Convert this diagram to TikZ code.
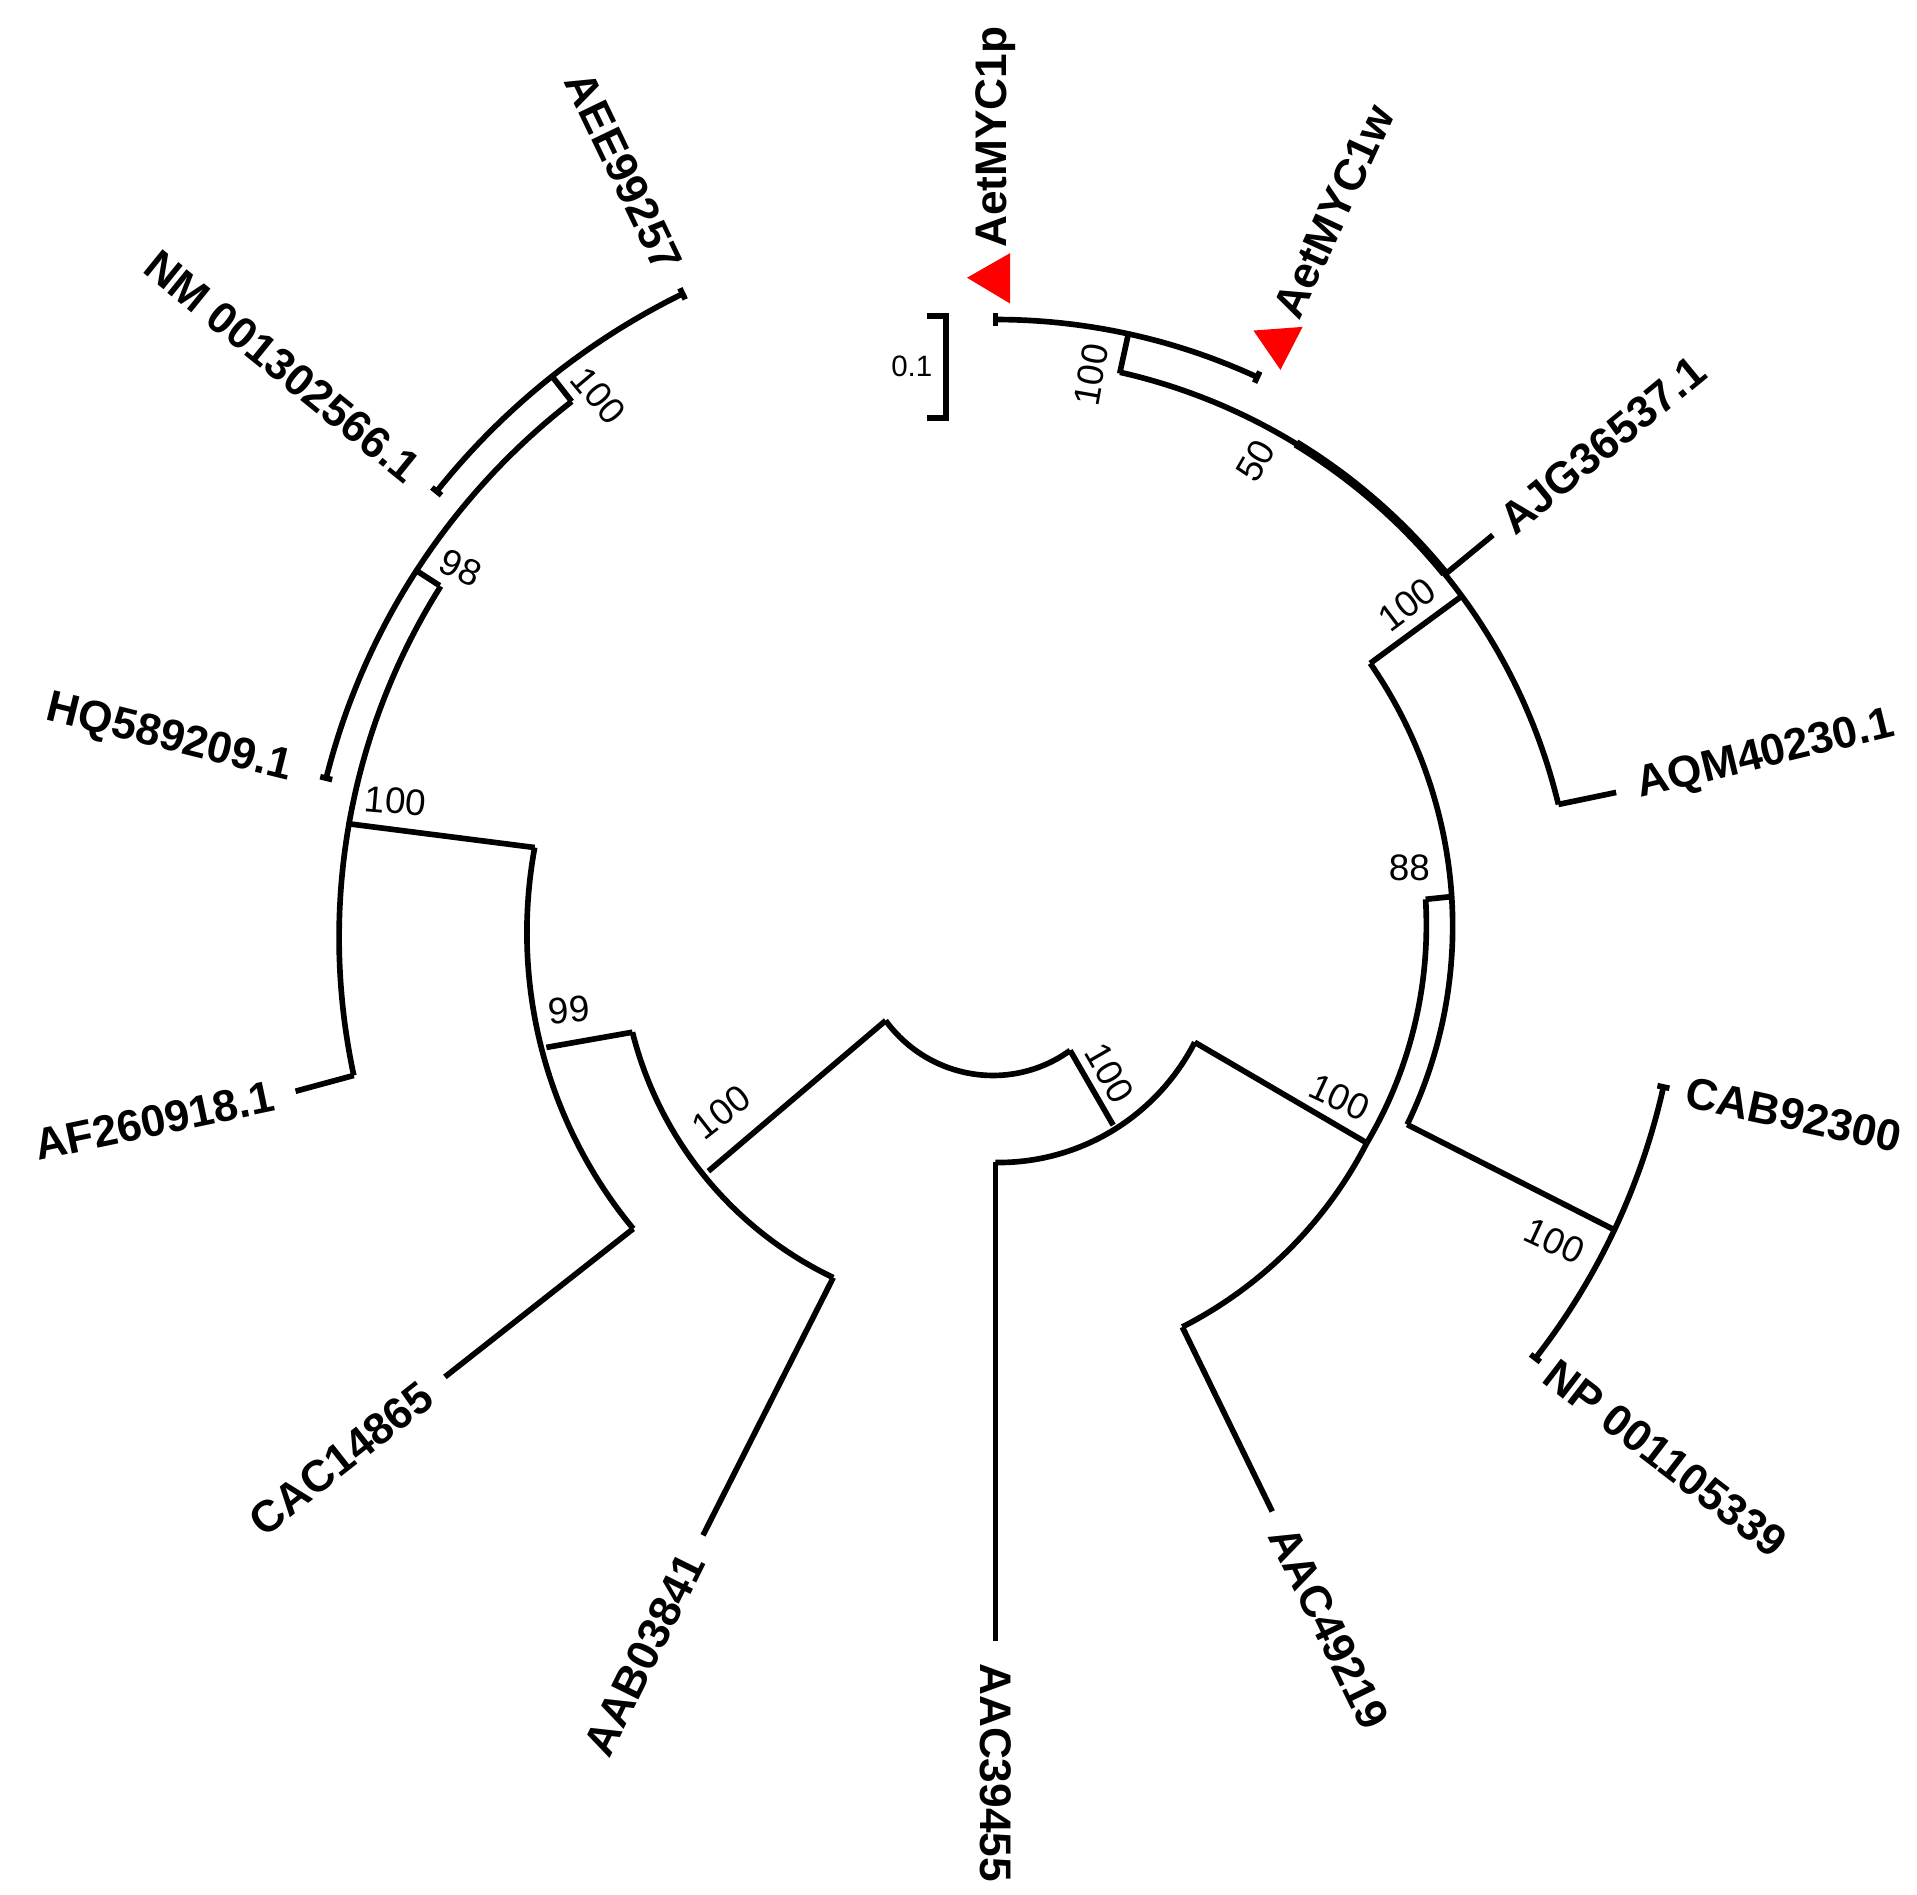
\documentclass[tikz,border=0pt]{standalone}
\usepackage{fontspec}
\setmainfont{Liberation Sans}
\newcommand\pt[2]{({810+(#2)*cos(#1)},{768-(#2)*sin(#1)})}
\newcommand\arcp[4]{plot[domain=#1:#2,samples=80]({810+(#3+(#4-#3)*(\x-(#1))/((#2)-(#1)))*cos(\x)},{768-(#3+(#4-#3)*(\x-(#1))/((#2)-(#1)))*sin(\x)})}
\newcommand\tickat[2]{\draw[br] \pt{#1}{#2-5} -- \pt{#1}{#2+5};}
\begin{document}
\begin{tikzpicture}[x=0.5pt,y=-0.5pt,
  br/.style={line width=2.3pt,line join=miter,line cap=butt},
  lab/.style={font=\bfseries\fontsize{18}{18}\selectfont,inner sep=0pt},
  boot/.style={font=\fontsize{15}{15}\selectfont,inner sep=0pt}]
\useasboundingbox (0,0) rectangle (1560,1542);
% ---------- top clade ----------
\draw[br] \arcp{90}{65.2}{508}{508};
\tickat{90}{508}\tickat{65.2}{508}
\draw[br] \pt{77.7}{508} -- \pt{77.7}{475};
\draw[br] \arcp{77.7}{13.9}{476}{472};
\draw[line width=3.6pt] \arcp{59}{39.5}{475}{474};
\draw[br] \pt{39.4}{475} -- \pt{39.4}{524};
\draw[br] \pt{13.9}{472} -- \pt{13.7}{520};
\draw[br] \pt{36.7}{475} -- \pt{36.8}{381};
% ---------- right clade ----------
\draw[br] \arcp{36.8}{-23.7}{381}{366};
\draw[br] \pt{-23.7}{366} -- \pt{-24.8}{554};
\draw[br] \arcp{-12.1}{-37.5}{556}{554};
\tickat{-12.1}{556}\tickat{-37.5}{554}
\draw[br] \pt{5.9}{373} -- \pt{5.9}{352};
\draw[br] \arcp{5.9}{-28.2}{352}{343};
\draw[br] \arcp{-28.2}{-64}{343}{347};
\draw[br] \pt{-64}{347} -- \pt{-64}{514};
\draw[br] \pt{-28.2}{343} -- \pt{-26.3}{181};
\draw[br] \arcp{-26.3}{-90}{181}{178};
\draw[br] \pt{-90}{178} -- \pt{-90}{567};
\draw[br] \pt{-57}{176} -- \pt{-55}{106};
% ---------- root ----------
\draw[br] \arcp{-55}{-145}{106}{109};
\draw[br] \pt{-145}{109} -- \pt{-141.6}{298};
% ---------- left clade ----------
\draw[br] \arcp{-115.9}{-166.3}{302}{304};
\draw[br] \pt{-115.9}{302} -- \pt{-116.3}{537};
\draw[br] \pt{-166.3}{304} -- \pt{-167}{375};
\draw[br] \arcp{168.2}{218.2}{383}{375};
\draw[br] \pt{218.2}{375} -- \pt{218.2}{570};
\draw[br] \pt{168.2}{383} -- \pt{169.5}{537};
\draw[br] \arcp{147.2}{191.6}{537}{533};
\draw[br] \pt{191.6}{533} -- \pt{191.9}{582};
\draw[br] \pt{147.2}{538} -- \pt{147.2}{560};
\draw[br] \arcp{128}{166.1}{560}{561};
\tickat{166.1}{561}
\draw[br] \pt{128}{560} -- \pt{128}{586};
\draw[br] \arcp{115.7}{141}{587}{585};
\tickat{115.7}{587}\tickat{141}{585}
% ---------- markers ----------
\fill[red] (787,226) -- (822,206) -- (822,247) -- cycle;
\fill[red] (1020,269) -- (1060,266) -- (1042,301) -- cycle;
% ---------- scale bar ----------
\draw[br] (754,257) -- (770,257) -- (770,340) -- (754,340);
\node[font=\fontsize{12}{12}\selectfont] (sc) at (742,298) {0.1};
% ---------- leaf labels ----------
\node[lab,anchor=west,rotate=90] (l1) at \pt{90}{566} {AetMYC1p};
\node[lab,anchor=west,rotate=65.2] (l2) at \pt{65.2}{563} {AetMYC1w};
\node[lab,anchor=west,rotate=39.4] (l3) at \pt{39.4}{537} {AJG36537.1};
\node[lab,anchor=west,rotate=13.7] (l4) at \pt{13.7}{538} {AQM40230.1};
\node[lab,anchor=west,rotate=-12.1] (l5) at \pt{-12.1}{575} {CAB92300};
\node[lab,anchor=west,rotate=-37.5] (l6) at \pt{-37.5}{568} {NP 001105339};
\node[lab,anchor=west,rotate=-64] (l7) at \pt{-64}{530} {AAC49219};
\node[lab,anchor=west,rotate=-90] (l8) at \pt{-90}{585} {AAC39455};
\node[lab,anchor=east,rotate=63.7] (l9) at \pt{-116.3}{556} {AAB03841};
\node[lab,anchor=east,rotate=38.2] (l10) at \pt{218.2}{588} {CAC14865};
\node[lab,anchor=east,rotate=11.9] (l11) at \pt{191.9}{600} {AF260918.1};
\node[lab,anchor=east,rotate=-13.9] (l12) at \pt{166.1}{590} {HQ589209.1};
\node[lab,anchor=east,rotate=-39] (l13) at \pt{141}{608} {NM 001302566.1};
\node[lab,anchor=east,rotate=-64.3] (l14) at \pt{115.7}{610} {AEE99257};
% ---------- bootstrap values ----------
\node[boot,rotate=80] (b1) at (888,305) {100};
\node[boot,rotate=60] (b2) at (1022,375) {50};
\node[boot,rotate=37] (b3) at (1145,492) {100};
\node[boot] (b4) at (1147,706) {88};
\node[boot,rotate=-25] (b5) at (1090,893) {100};
\node[boot,rotate=-25] (b6) at (1265,1010) {100};
\node[boot,rotate=-60] (b7) at (903,873) {100};
\node[boot,rotate=38] (b8) at (587,905) {100};
\node[boot,rotate=5] (b9) at (463,822) {99};
\node[boot,rotate=-5] (b10) at (322,652) {100};
\node[boot,rotate=-25] (b11) at (375,462) {98};
\node[boot,rotate=-50] (b12) at (487,322) {100};
\end{tikzpicture}
\end{document}
